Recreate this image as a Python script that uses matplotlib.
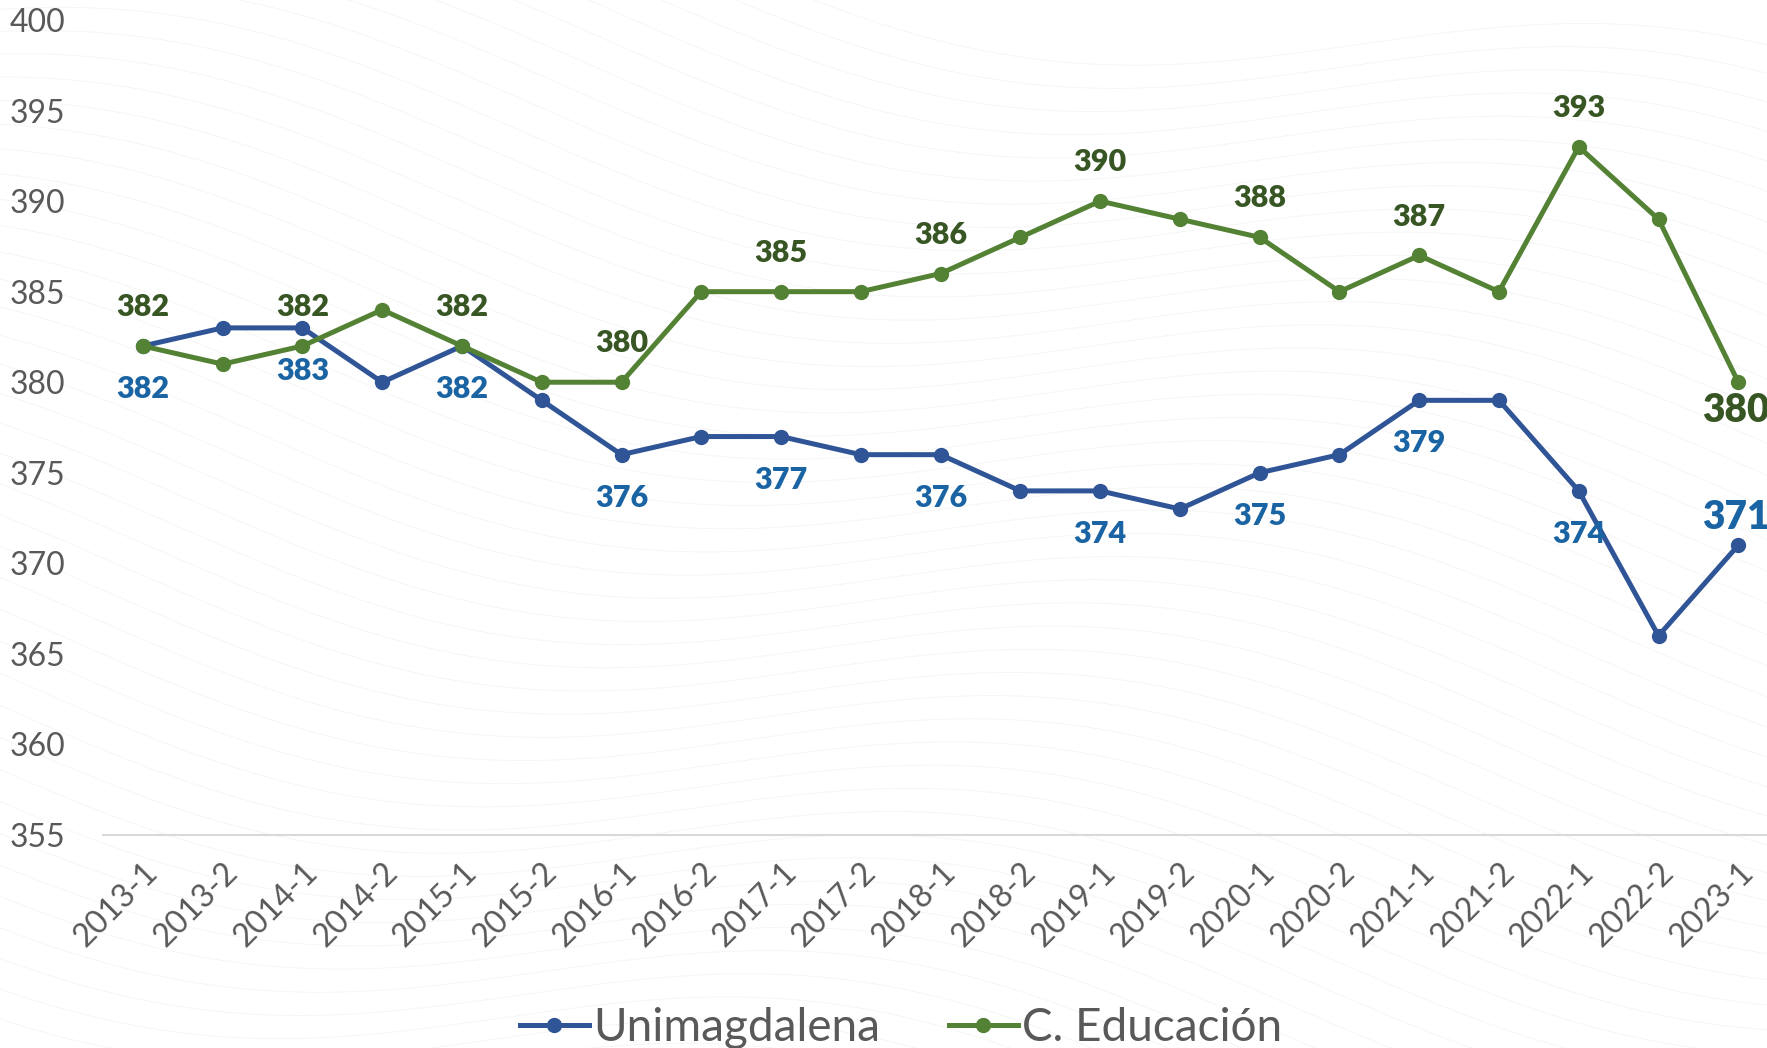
import numpy as np
import matplotlib.pyplot as plt

plt.rcParams['font.family'] = ['Lato', 'DejaVu Sans']

periodos = ['2013-1', '2013-2', '2014-1', '2014-2', '2015-1', '2015-2', '2016-1',
            '2016-2', '2017-1', '2017-2', '2018-1', '2018-2', '2019-1', '2019-2',
            '2020-1', '2020-2', '2021-1', '2021-2', '2022-1', '2022-2', '2023-1']
unimagdalena = [382, 383, 383, 380, 382, 379, 376, 377, 377, 376, 376, 374, 374, 373,
                375, 376, 379, 379, 374, 366, 371]
educacion = [382, 381, 382, 384, 382, 380, 380, 385, 385, 385, 386, 388, 390, 389,
             388, 385, 387, 385, 393, 389, 380]
y_ticks = [355, 360, 365, 370, 375, 380, 385, 390, 395, 400]

AZUL = '#2f5597'
AZUL_TXT = '#1a64a3'
VERDE = '#548235'
VERDE_TXT = '#375623'
GRIS = '#595959'

fig = plt.figure(figsize=(17.67, 10.48), dpi=100)

# decorative wavy background
bg = fig.add_axes([0, 0, 1, 1], zorder=-5)
bg.set_xlim(0, 1)
bg.set_ylim(0, 1)
bg.axis('off')
t = np.linspace(0, 1, 400)
for k in range(60):
    base = 1.15 - k * 0.025
    y = base - 0.25 * t + 0.06 * np.sin(2 * np.pi * (t * 1.3 + k * 0.015))
    bg.plot(t, y, color='#dcdcdc', lw=0.6, alpha=0.3)

ax = fig.add_axes([103 / 1767, 1 - 835 / 1048, 1 - 103 / 1767, (835 - 20) / 1048])
ax.patch.set_alpha(0)
x = np.arange(len(periodos))

ax.plot(x, unimagdalena, color=AZUL, lw=3.6, marker='o', ms=10, label='Unimagdalena',
        solid_joinstyle='round')
ax.plot(x, educacion, color=VERDE, lw=3.6, marker='o', ms=10, label='C. Educación',
        solid_joinstyle='round')

last = len(periodos) - 1
for i in range(0, len(periodos), 2):
    if i == last:
        continue
    ax.annotate(str(unimagdalena[i]), (x[i], unimagdalena[i]), xytext=(0, -31),
                textcoords='offset points', ha='center', va='center',
                fontsize=22, fontweight='heavy', color=AZUL_TXT)
    ax.annotate(str(educacion[i]), (x[i], educacion[i]), xytext=(0, 28),
                textcoords='offset points', ha='center', va='center',
                fontsize=22, fontweight='heavy', color=VERDE_TXT)

ax.annotate(str(unimagdalena[last]), (x[last], unimagdalena[last]), xytext=(-2, 20),
            textcoords='offset points', ha='center', va='center',
            fontsize=28, fontweight='heavy', color=AZUL_TXT)
ax.annotate(str(educacion[last]), (x[last], educacion[last]), xytext=(-2, -20),
            textcoords='offset points', ha='center', va='center',
            fontsize=28, fontweight='heavy', color=VERDE_TXT)

ax.set_xlim(-0.5, 20.36)
ax.set_ylim(355, 400)
ax.set_yticks(y_ticks)
ax.set_xticks(x)
ax.set_xticklabels(periodos, rotation=45, ha='right', rotation_mode='anchor')
ax.tick_params(axis='both', length=0, colors=GRIS, labelsize=23)
ax.tick_params(axis='y', pad=27)
ax.tick_params(axis='x', pad=16)
for s in ['top', 'right', 'left']:
    ax.spines[s].set_visible(False)
ax.spines['bottom'].set_color('#d9d9d9')
ax.spines['bottom'].set_linewidth(1.5)

leg = fig.legend(loc='lower center', bbox_to_anchor=(0.51, -0.04), ncol=2,
                 frameon=False, fontsize=33, handlelength=1.5, handletextpad=0.1,
                 columnspacing=1.5, labelcolor=GRIS)

fig.savefig('out.png', dpi=100)
